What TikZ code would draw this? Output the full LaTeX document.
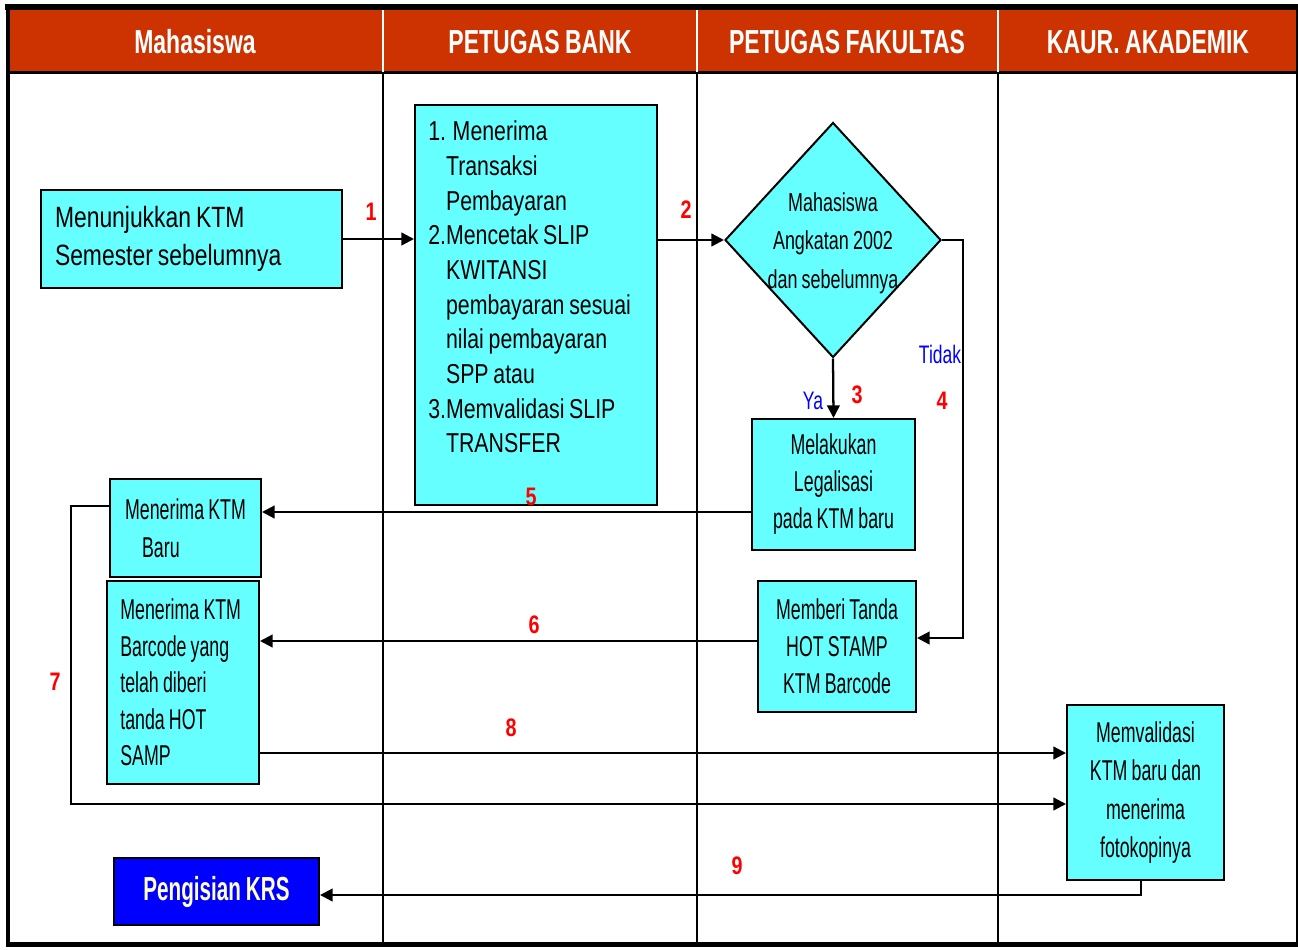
\documentclass[tikz,border=0pt]{standalone}
\usepackage{fontspec}
\setmainfont{Liberation Sans}
\newfontfamily\wf{Liberation Sans}[FakeStretch=0.78, WordSpace=0.8]
\newfontfamily\nf{Liberation Sans}[FakeStretch=0.62, WordSpace=0.85]
\newfontfamily\mf{Liberation Sans}[FakeStretch=0.69, WordSpace=0.85]
\usetikzlibrary{shapes.geometric,arrows.meta}
\definecolor{hdred}{HTML}{CC3300}
\definecolor{boxcyan}{HTML}{66FFFF}
\definecolor{krsblue}{HTML}{0000FF}
\definecolor{krstext}{HTML}{FFFFCC}
\begin{document}
\begin{tikzpicture}[x=0.75pt,y=-0.75pt,
  box/.style={draw=black, line width=1.5pt, fill=boxcyan, inner sep=0pt},
  ntext/.style={font=\nf\fontsize{21.5}{27.75}\selectfont, align=center},
  conn/.style={line width=1.7pt, -{Triangle[length=9.5pt,width=9.5pt]}},
  num/.style={text=red, font=\wf\bfseries\fontsize{19}{19}\selectfont, inner sep=0pt},
  yn/.style={text=blue, font=\mf\fontsize{19}{19}\selectfont, inner sep=0pt},
  hdr/.style={text=white, font=\mf\bfseries\fontsize{25}{25}\selectfont, inner sep=0pt},
  lane/.style={line width=1.1pt}
]
\fill[white] (0,0) rectangle (1298,949);
\useasboundingbox (0,0) rectangle (1298,949);

% frame and header
\fill[hdred] (8,10) rectangle (1297,72);
\draw[line width=4.5pt] (5,7.5) -- (1298,7.5);
\draw[line width=3pt] (8,5) -- (8,947);
\draw[line width=3.75pt] (6,944.5) -- (1298,944.5);
\draw[line width=1.5pt] (1297,7) -- (1297,944);
\draw[line width=2.25pt] (8,73) -- (1297,73);
\foreach \xx in {383,697,998}{
  \draw[white, lane] (\xx,10) -- (\xx,72);
  \draw[lane] (\xx,74) -- (\xx,943);
}
\node[hdr] (h1) at (195,42) {Mahasiswa};
\node[hdr] (h2) at (540,42) {PETUGAS BANK};
\node[hdr] (h3) at (847,42) {PETUGAS FAKULTAS};
\node[hdr] (h4) at (1148,42) {KAUR. AKADEMIK};

% boxes
\node[box, minimum width=225.75pt, minimum height=73.5pt, text width=204.75pt, inner xsep=10.5pt, align=flush left, font=\wf\fontsize{22}{28.5}\selectfont] (ktm) at (191.5,239) {Menunjukkan KTM\\Semester sebelumnya};

\node[box, minimum width=181.5pt, minimum height=300pt] (bank) at (536,305) {};
\node[anchor=west, inner sep=0pt, text width=170pt, align=flush left, font=\wf\fontsize{20.5}{26}\selectfont] (banktxt) at (428,287) {1. Menerima\\\phantom{2.}Transaksi\\\phantom{2.}Pembayaran\\2.Mencetak SLIP\\\phantom{2.}KWITANSI\\\phantom{2.}pembayaran sesuai\\\phantom{2.}nilai pembayaran\\\phantom{2.}SPP atau\\3.Memvalidasi SLIP\\\phantom{2.}TRANSFER};

\node[box, diamond, minimum width=162pt, minimum height=176.25pt] (dia) at (833,240) {};
\node[align=center, inner sep=0pt, font=\mf\fontsize{19.5}{29}\selectfont] (diatxt) at (833,243) {Mahasiswa\\Angkatan 2002\\dan sebelumnya};

\node[box, ntext, minimum width=122.25pt, minimum height=98.25pt] (leg) at (833.5,484.5) {Melakukan\\Legalisasi\\pada KTM baru};
\node[box, ntext, minimum width=118.5pt, minimum height=98.25pt] (hot) at (837,646.5) {Memberi Tanda\\HOT STAMP\\KTM Barcode};
\node[box, ntext, align=left, minimum width=113.25pt, minimum height=73.5pt, font=\nf\fontsize{21.5}{28.5}\selectfont] (baru) at (185.5,528) {Menerima KTM\\\hspace*{12.75pt}Baru};
\node[box, ntext, align=flush left, minimum width=114pt, minimum height=152.25pt, text width=94pt, inner xsep=10pt, font=\nf\fontsize{21.5}{27.4}\selectfont] (bar) at (183,682.5) {Menerima KTM\\Barcode yang\\telah diberi\\tanda HOT\\SAMP};
\node[box, ntext, minimum width=117.75pt, minimum height=131.25pt, font=\nf\fontsize{21.5}{28.7}\selectfont] (val) at (1145.5,792.5) {Memvalidasi\\KTM baru dan\\menerima\\fotokopinya};
\node[draw=black, line width=1.5pt, fill=krsblue, text=krstext, inner sep=0pt, minimum width=153.75pt, minimum height=50.25pt, font=\nf\bfseries\fontsize{25}{25}\selectfont] (krs) at (216.5,891.5) {Pengisian KRS};

% connectors
\draw[conn] (ktm.east) -- (bank.west |- ktm.east);
\draw[conn] (bank.east |- dia.west) -- (dia.west);
\draw[conn] (dia.south) -- (leg.north);
\coordinate (c4) at (963,638);
\draw[conn] (dia.east) -| (c4) -- (hot.east |- c4);
\coordinate (c5) at (0,512);
\draw[conn] (leg.west |- c5) -- (baru.east |- c5);
\coordinate (c6) at (0,641);
\draw[conn] (hot.west |- c6) -- (bar.east |- c6);
\coordinate (c7a) at (71,506);
\coordinate (c7b) at (71,804);
\draw[conn] (baru.west |- c7a) -- (c7a) -- (c7b) -- (val.west |- c7b);
\coordinate (c8) at (0,753);
\draw[conn] (bar.east |- c8) -- (val.west |- c8);
\coordinate (c9) at (1141,895);
\draw[conn] (val.south -| c9) -- (c9) -- (krs.east |- c9);

% labels
\node[num] (n1) at (371,212) {1};
\node[num] (n2) at (686,210) {2};
\node[num] (n3) at (857,395) {3};
\node[num] (n4) at (942,401) {4};
\node[num] (n5) at (531,497) {5};
\node[num] (n6) at (534,625) {6};
\node[num] (n7) at (55,682) {7};
\node[num] (n8) at (511,728) {8};
\node[num] (n9) at (737,866) {9};
\node[yn] (ya) at (813,401) {Ya};
\node[yn] (tidak) at (940,354) {Tidak};
\end{tikzpicture}
\end{document}
